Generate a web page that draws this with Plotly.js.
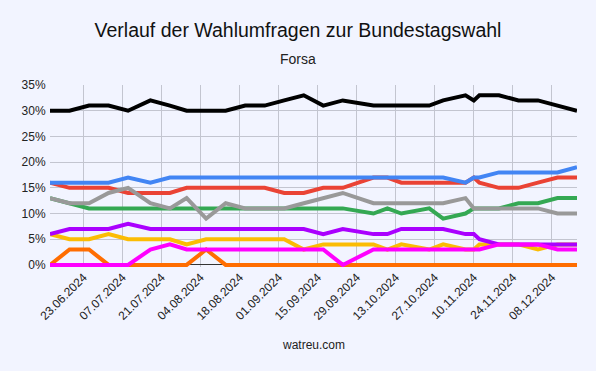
<!DOCTYPE html>
<html>
<head>
<meta charset="utf-8">
<script src="https://cdn.plot.ly/plotly-3.0.1.min.js"></script>
<style>
  html, body { margin: 0; padding: 0; background: #f2f4ff; }
  #chart { width: 596px; height: 371px; }
</style>
</head>
<body>
<div id="chart"></div>
<script>
// Poll dates (Forsa)
const dates = [
  '2024-06-11','2024-06-18','2024-06-25','2024-07-02','2024-07-09','2024-07-17',
  '2024-07-24','2024-07-30','2024-08-06','2024-08-13','2024-08-20','2024-08-27',
  '2024-09-03','2024-09-10','2024-09-17','2024-09-24','2024-10-05','2024-10-10',
  '2024-10-15','2024-10-25','2024-10-30','2024-11-07','2024-11-10','2024-11-12',
  '2024-11-19','2024-11-26','2024-12-03','2024-12-10','2024-12-17'
];

// Series values (percent)
const union    = [30,30,31,31,30,32,31,30,30,30,31,31,32,33,31,32,31,31,31,31,32,33,32,33,33,32,32,31,30];
const afd      = [16,16,16,16,17,16,17,17,17,17,17,17,17,17,17,17,17,17,17,17,17,16,17,17,18,18,18,18,19];
const spd      = [16,15,15,15,14,14,14,15,15,15,15,15,14,14,15,15,17,17,16,16,16,16,17,16,15,15,16,17,17];
const gruene   = [13,12,11,11,11,11,11,11,11,11,11,11,11,11,11,11,10,11,10,11, 9,10,11,11,11,12,12,13,13];
const sonstige = [13,12,12,14,15,12,11,13, 9,12,11,11,11,12,13,14,12,12,12,12,12,13,11,11,11,11,11,10,10];
const bsw      = [ 6, 7, 7, 7, 8, 7, 7, 7, 7, 7, 7, 7, 7, 7, 6, 7, 6, 6, 7, 7, 7, 6, 6, 5, 4, 4, 4, 4, 4];
const fdp      = [ 6, 5, 5, 6, 5, 5, 5, 4, 5, 5, 5, 5, 5, 3, 4, 4, 4, 3, 4, 3, 4, 3, 3, 4, 4, 4, 3, 4, 4];
const linke    = [ 0, 0, 0, 0, 0, 3, 4, 3, 3, 3, 3, 3, 3, 3, 3, 0, 3, 3, 3, 3, 3, 3, 3, 3, 4, 4, 4, 3, 3];
const fw       = [ 0, 3, 3, 0, 0, 0, 0, 0, 3, 0, 0, 0, 0, 0, 0, 0, 0, 0, 0, 0, 0, 0, 0, 0, 0, 0, 0, 0, 0];

const names  = ['Freie Wähler','FDP','BSW','Die Linke','SPD','Grüne','Sonstige','AfD','CDU/CSU'];
const series = [fw, fdp, bsw, linke, spd, gruene, sonstige, afd, union];
const colors = ['#ff6d01','#fbbc04','#aa00ff','#ff00ff','#ea4335','#34a853','#999999','#4285f4','#000000'];

const traces = series.map((vals, i) => ({
  type: 'scatter',
  mode: 'lines',
  x: dates,
  y: vals,
  name: names[i],
  line: { color: colors[i], width: 4 },
  hoverinfo: 'x+y+name'
}));

const tickFont = { family: 'Liberation Sans, Arial, sans-serif', size: 12, color: '#222222' };

const layout = {
  width: 596,
  height: 371,
  paper_bgcolor: '#f2f4ff',
  plot_bgcolor: '#f2f4ff',
  showlegend: false,
  margin: { l: 50, r: 19, t: 85, b: 104 },
  title: {
    text: 'Verlauf der Wahlumfragen zur Bundestagswahl',
    font: { family: 'Liberation Sans, Arial, sans-serif', size: 19.5, color: '#111111' },
    x: 0.5, xanchor: 'center',
    yref: 'container', y: 1 - 30 / 371, yanchor: 'middle'
  },
  annotations: [
    {
      text: 'Forsa', xref: 'paper', yref: 'paper', x: (298 - 50) / 527, y: (371 - 104 - 59) / (371 - 85 - 104), xanchor: 'center', yanchor: 'middle',
      showarrow: false, font: { family: 'Liberation Sans, Arial, sans-serif', size: 14, color: '#222222' }
    },
    {
      text: 'watreu.com', xref: 'paper', yref: 'paper', x: 0.5, y: (371 - 104 - 345) / (371 - 85 - 104), xanchor: 'center', yanchor: 'middle',
      showarrow: false, font: { family: 'Liberation Sans, Arial, sans-serif', size: 12, color: '#222222' }
    }
  ],
  xaxis: {
    type: 'date',
    range: ['2024-06-11', '2024-12-17'],
    tick0: '2024-06-23',
    dtick: 14 * 24 * 3600 * 1000,
    tickformat: '%d.%m.%Y',
    tickangle: -45,
    tickfont: tickFont,
    showgrid: true,
    gridcolor: '#c3c5d0',
    gridwidth: 1,
    zeroline: false,
    showline: false,
    ticks: ''
  },
  yaxis: {
    range: [-0.4, 35],
    tick0: 0,
    dtick: 5,
    ticksuffix: '%',
    tickfont: tickFont,
    showgrid: true,
    gridcolor: '#c3c5d0',
    gridwidth: 1,
    zeroline: true,
    zerolinecolor: '#333333',
    zerolinewidth: 1,
    showline: false,
    ticks: 'outside',
    ticklen: 1,
    tickcolor: 'rgba(0,0,0,0)'
  }
};

Plotly.newPlot('chart', traces, layout, { displayModeBar: false, staticPlot: true });
</script>
</body>
</html>
